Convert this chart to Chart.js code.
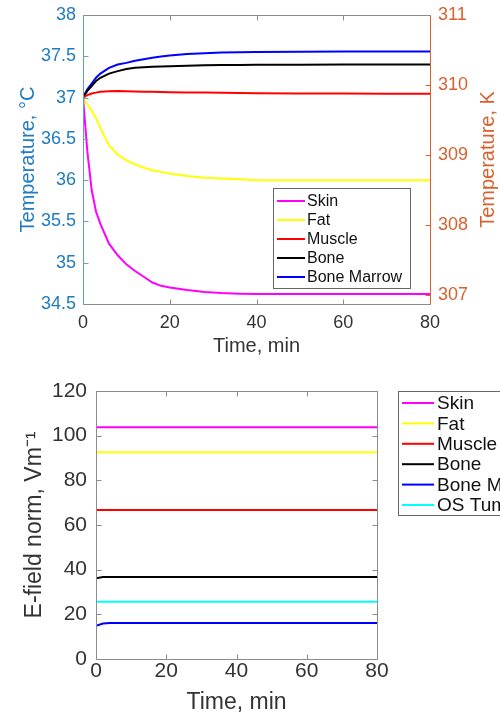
<!DOCTYPE html>
<html>
<head>
<meta charset="utf-8">
<script src="https://cdn.jsdelivr.net/npm/chart.js"></script>
<style>
  html, body { margin: 0; padding: 0; background: #fff; }
  #wrap { width: 500px; height: 715px; position: relative; overflow: hidden; }
  .box { position: absolute; left: 0; width: 500px; }
</style>
</head>
<body>
<div id="wrap">
  <div class="box" style="top:0;height:360px"><canvas id="tempChart"></canvas></div>
  <div class="box" style="top:360px;height:355px"><canvas id="fieldChart"></canvas></div>
</div>
<script>
// Top plot: tissue temperature vs time
const tissues = ['Skin', 'Fat', 'Muscle', 'Bone', 'Bone Marrow'];
const tissueColors = ['#ff00ff', '#ffff00', '#ff0000', '#000000', '#0000ff'];
const tempTime   = [0, 1, 2, 3, 4, 6, 8, 10, 12, 14, 16, 18, 20, 24, 28, 32, 36, 40, 50, 60, 70, 80];
const skinTemp   = [37, 36.35, 35.88, 35.62, 35.47, 35.23, 35.09, 34.98, 34.9, 34.83, 34.76, 34.72, 34.7, 34.67, 34.645, 34.632, 34.625, 34.62, 34.62, 34.62, 34.62, 34.62];
const fatTemp    = [37, 36.92, 36.84, 36.75, 36.63, 36.42, 36.31, 36.24, 36.19, 36.15, 36.12, 36.1, 36.08, 36.05, 36.03, 36.02, 36.01, 36.0, 36.0, 36.0, 36.0, 36.0];
const muscleTemp = [37, 37.03, 37.05, 37.06, 37.07, 37.077, 37.08, 37.078, 37.075, 37.072, 37.07, 37.067, 37.065, 37.062, 37.06, 37.057, 37.055, 37.053, 37.05, 37.048, 37.047, 37.046];
const boneTemp   = [37, 37.08, 37.14, 37.2, 37.24, 37.29, 37.32, 37.345, 37.36, 37.367, 37.373, 37.377, 37.38, 37.386, 37.39, 37.393, 37.395, 37.396, 37.398, 37.4, 37.4, 37.4];
const marrowTemp = [37, 37.1, 37.17, 37.24, 37.29, 37.36, 37.4, 37.42, 37.445, 37.465, 37.483, 37.498, 37.51, 37.527, 37.538, 37.545, 37.55, 37.553, 37.556, 37.558, 37.558, 37.558];
const celsiusTicks = [34.5, 35, 35.5, 36, 36.5, 37, 37.5, 38];
const kelvinTicks = [307, 308, 309, 310, 311];
const timeTicks = [0, 20, 40, 60, 80];

// Bottom plot: E-field norm vs time
const fieldTissues = ['Skin', 'Fat', 'Muscle', 'Bone', 'Bone Marrow', 'OS Tumor'];
const fieldColors = ['#ff00ff', '#ffff00', '#ff0000', '#000000', '#0000ff', '#00ffff'];
const fieldTime   = [0, 2, 4, 10, 20, 30, 40, 50, 60, 70, 80];
const skinField   = [103.8, 103.8, 103.8, 103.8, 103.8, 103.8, 103.8, 103.8, 103.8, 103.8, 103.8];
const fatField    = [92.6, 92.6, 92.6, 92.6, 92.6, 92.6, 92.6, 92.6, 92.6, 92.6, 92.6];
const muscleField = [66.7, 66.7, 66.7, 66.7, 66.7, 66.7, 66.7, 66.7, 66.7, 66.7, 66.7];
const boneField   = [36.2, 36.7, 36.7, 36.7, 36.7, 36.7, 36.7, 36.7, 36.7, 36.7, 36.7];
const marrowField = [14.9, 15.9, 16.1, 16.1, 16.1, 16.1, 16.1, 16.1, 16.1, 16.1, 16.1];
const tumorField  = [25.6, 25.6, 25.6, 25.6, 25.6, 25.6, 25.6, 25.6, 25.6, 25.6, 25.6];
const fieldTicks = [0, 20, 40, 60, 80, 100, 120];

const FONT = '"Liberation Sans", Arial, sans-serif';
const GREY_TEXT = '#333333';
const C_BLUE = '#1f7cc0';
const C_ORANGE = '#d9602e';

function toPoints(xs, ys) {
    return xs.map(function (x, i) { return { x: x, y: ys[i] }; });
}

function makeDatasets(names, colors, xs, series, axis) {
    return names.map(function (name, i) {
        return {
            label: name,
            data: toPoints(xs, series[i]),
            borderColor: colors[i],
            backgroundColor: colors[i],
            borderWidth: 2,
            pointRadius: 0,
            tension: 0,
            yAxisID: axis
        };
    });
}

function fixedTicks(values) {
    return function (scale) {
        scale.ticks = values.map(function (v) { return { value: v }; });
    };
}

// plain number labels, like "37" and "37.5"
function plainLabel(value) {
    return String(value);
}

// draws the matlab-like box with inward ticks
const framePlugin = {
    id: 'frame',
    afterDatasetsDraw(chart, args, opts) {
        const ctx = chart.ctx;
        const a = chart.chartArea;
        const L = Math.round(a.left) + 0.5, R = Math.round(a.right) + 0.5;
        const T = Math.round(a.top) + 0.5, B = Math.round(a.bottom) + 0.5;
        ctx.save();
        ctx.lineWidth = 1;
        function seg(x1, y1, x2, y2, c) {
            ctx.strokeStyle = c;
            ctx.beginPath();
            ctx.moveTo(x1, y1);
            ctx.lineTo(x2, y2);
            ctx.stroke();
        }
        const len = 5;
        const xs = chart.scales.x;
        xs.ticks.forEach(function (t) {
            const px = Math.round(xs.getPixelForValue(t.value)) + 0.5;
            seg(px, B, px, B - len, opts.bottom);
            seg(px, T, px, T + len, opts.top);
        });
        const ys = chart.scales.y;
        ys.ticks.forEach(function (t) {
            const py = Math.round(ys.getPixelForValue(t.value)) + 0.5;
            seg(L, py, L + len, py, opts.left);
            if (!opts.rightScale) seg(R, py, R - len, py, opts.right);
        });
        if (opts.rightScale) {
            const rs = chart.scales[opts.rightScale];
            rs.ticks.forEach(function (t) {
                const py = Math.round(rs.getPixelForValue(t.value)) + 0.5;
                seg(R, py, R - len, py, opts.right);
            });
        }
        seg(L, T, R, T, opts.top);
        seg(L, B, R, B, opts.bottom);
        seg(L, T, L, B, opts.left);
        seg(R, T, R, B, opts.right);

        if (opts.rightTitle) {
            ctx.fillStyle = opts.right;
            ctx.font = opts.rightTitle.size + 'px ' + FONT;
            ctx.textAlign = 'center';
            ctx.textBaseline = 'middle';
            ctx.translate(opts.rightTitle.x, (a.top + a.bottom) / 2);
            ctx.rotate(-Math.PI / 2);
            ctx.fillText(opts.rightTitle.text, 0, 0);
        }
        ctx.restore();
    }
};

// legend box drawn inside the canvas at a given spot
const boxLegendPlugin = {
    id: 'boxLegend',
    afterDraw(chart, args, o) {
        const ctx = chart.ctx;
        ctx.save();
        ctx.fillStyle = '#ffffff';
        ctx.fillRect(o.x, o.y, o.w, o.h);
        ctx.strokeStyle = '#666666';
        ctx.lineWidth = 1;
        ctx.strokeRect(o.x + 0.5, o.y + 0.5, o.w, o.h);
        ctx.font = o.size + 'px ' + FONT;
        ctx.textAlign = 'left';
        ctx.textBaseline = 'middle';
        chart.data.datasets.forEach(function (ds, i) {
            const y = o.firstRow + i * o.rowH;
            ctx.strokeStyle = ds.borderColor;
            ctx.lineWidth = 2;
            ctx.beginPath();
            ctx.moveTo(o.lineX1, y);
            ctx.lineTo(o.lineX2, y);
            ctx.stroke();
            ctx.fillStyle = '#111111';
            ctx.fillText(ds.label, o.textX, y + 1);
        });
        ctx.restore();
    }
};

const tempChart = new Chart(document.getElementById('tempChart'), {
    type: 'line',
    data: {
        datasets: makeDatasets(tissues, tissueColors, tempTime,
            [skinTemp, fatTemp, muscleTemp, boneTemp, marrowTemp], 'y')
    },
    options: {
        responsive: true,
        maintainAspectRatio: false,
        animation: false,
        layout: { padding: { top: 15, right: 0, left: 0, bottom: 0 } },
        plugins: {
            legend: { display: false },
            tooltip: { enabled: false },
            frame: { top: '#8c8c8c', bottom: '#8c8c8c', left: '#5c9fd4', right: C_ORANGE,
                     rightScale: 'y2', rightTitle: { text: 'Temperature, K', x: 488, size: 20 } },
            boxLegend: { x: 273, y: 188, w: 137, h: 100, firstRow: 201, rowH: 19,
                         lineX1: 277, lineX2: 305, textX: 307, size: 16 }
        },
        scales: {
            x: {
                type: 'linear', min: 0, max: 80,
                afterBuildTicks: fixedTicks(timeTicks),
                afterFit: function (s) { s.height = 56; },
                grid: { display: false }, border: { display: false },
                ticks: { color: GREY_TEXT, padding: 0, callback: plainLabel, font: { family: FONT, size: 18 } },
                title: { display: true, text: 'Time, min', color: GREY_TEXT, padding: { top: 0, bottom: 2 },
                         font: { family: FONT, size: 20 } }
            },
            y: {
                position: 'left', min: 34.5, max: 38,
                afterBuildTicks: fixedTicks(celsiusTicks),
                afterFit: function (s) { s.width = 83; },
                grid: { display: false }, border: { display: false },
                ticks: { color: C_BLUE, padding: -1, callback: plainLabel, font: { family: FONT, size: 18 } },
                title: { display: true, text: 'Temperature, °C', color: C_BLUE, padding: { top: 16, bottom: 0 },
                         font: { family: FONT, size: 20 } }
            },
            y2: {
                position: 'right', min: 306.87, max: 311,
                afterBuildTicks: fixedTicks(kelvinTicks),
                afterFit: function (s) { s.width = 70; },
                grid: { display: false }, border: { display: false },
                ticks: { color: C_ORANGE, padding: 0, callback: plainLabel, font: { family: FONT, size: 18 } }
            }
        }
    },
    plugins: [framePlugin, boxLegendPlugin]
});

const fieldChart = new Chart(document.getElementById('fieldChart'), {
    type: 'line',
    data: {
        datasets: makeDatasets(fieldTissues, fieldColors, fieldTime,
            [skinField, fatField, muscleField, boneField, marrowField, tumorField], 'y')
    },
    options: {
        responsive: true,
        maintainAspectRatio: false,
        animation: false,
        layout: { padding: { top: 31, right: 123, left: 0, bottom: 0 } },
        plugins: {
            legend: { display: false },
            tooltip: { enabled: false },
            frame: { top: '#8c8c8c', bottom: '#8c8c8c', left: '#8c8c8c', right: '#8c8c8c' },
            boxLegend: { x: 398, y: 31, w: 130, h: 124, firstRow: 43, rowH: 20.4,
                         lineX1: 402, lineX2: 434, textX: 437, size: 19 }
        },
        scales: {
            x: {
                type: 'linear', min: 0, max: 80,
                afterBuildTicks: fixedTicks(timeTicks),
                afterFit: function (s) { s.height = 56; },
                grid: { display: false }, border: { display: false },
                ticks: { color: GREY_TEXT, padding: -6, callback: plainLabel, font: { family: FONT, size: 21, lineHeight: 1 } },
                title: { display: true, text: 'Time, min', color: GREY_TEXT, padding: { top: 0, bottom: -1 },
                         font: { family: FONT, size: 23 } }
            },
            y: {
                position: 'left', min: 0, max: 120,
                afterBuildTicks: fixedTicks(fieldTicks),
                afterFit: function (s) { s.width = 96; },
                grid: { display: false }, border: { display: false },
                ticks: { color: GREY_TEXT, padding: 1, callback: plainLabel, font: { family: FONT, size: 21 } },
                title: { display: true, text: 'E-field norm, Vm⁻¹', color: GREY_TEXT, padding: { top: 21, bottom: 0 },
                         font: { family: FONT, size: 23 } }
            }
        }
    },
    plugins: [framePlugin, boxLegendPlugin]
});
</script>
</body>
</html>
